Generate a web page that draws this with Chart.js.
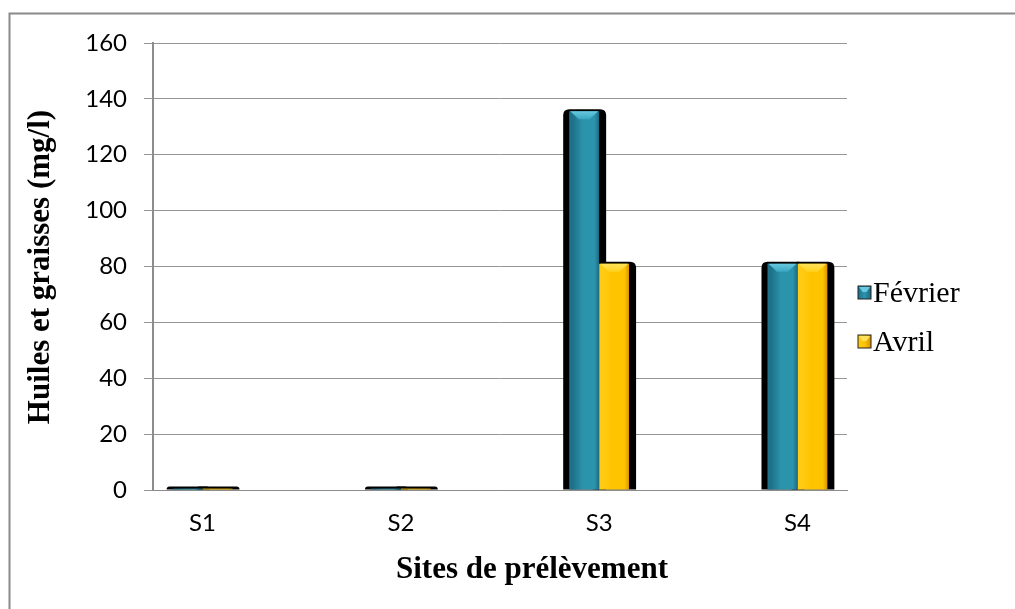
<!DOCTYPE html>
<html>
<head>
<meta charset="utf-8">
<script src="https://cdn.jsdelivr.net/npm/chart.js@4.4.0/dist/chart.umd.min.js"></script>
<style>
  html, body { margin: 0; padding: 0; background: #ffffff; }
  canvas { display: block; }
</style>
</head>
<body>
<canvas id="chart" width="1015" height="609"></canvas>
<script>
// Oils and greases per sampling site (mg/l)
const categories = ['S1', 'S2', 'S3', 'S4'];
const fevrier = [0.5, 0.5, 135.6, 81];
const avril = [0.5, 0.5, 81, 81];
const seriesNames = ['Février', 'Avril'];
const yTickValues = [0, 20, 40, 60, 80, 100, 120, 140, 160];
const yTitle = 'Huiles et graisses (mg/l)';
const xTitle = 'Sites de prélèvement';

const CAT_PCT = 0.302;

const palettes = [
  { left: '#1d7188', mid: '#2c93ad', right: '#1b6a80', cap: '#68c9e0', capDark: '#3aa6c2' },
  { left: '#ffcb14', mid: '#ffc400', right: '#d99300', cap: '#ffe25a', capDark: '#ffd21f' }
];

function barGeometry(ctx) {
  const ch = ctx.chart;
  const xs = ch.scales.x;
  const step = xs.getPixelForValue(1) - xs.getPixelForValue(0);
  const group = step * CAT_PCT;
  const w = group / 2;
  const cx = xs.getPixelForValue(ctx.parsed.x);
  const left = cx - group / 2 + ctx.datasetIndex * w;
  return { left, w };
}

function barFill(ctx) {
  const pal = palettes[ctx.datasetIndex];
  if (!ctx.chart.chartArea || !ctx.parsed) return pal.mid;
  const { left, w } = barGeometry(ctx);
  const g = ctx.chart.ctx.createLinearGradient(left, 0, left + w, 0);
  g.addColorStop(0, pal.left);
  g.addColorStop(0.12, pal.left);
  g.addColorStop(0.45, pal.mid);
  g.addColorStop(0.85, pal.mid);
  g.addColorStop(1, pal.right);
  return g;
}

function roundTopRect(c, x, y, w, h, r) {
  r = Math.min(r, w / 2, h);
  c.beginPath();
  c.moveTo(x, y + h);
  c.lineTo(x, y + r);
  c.quadraticCurveTo(x, y, x + r, y);
  c.lineTo(x + w - r, y);
  c.quadraticCurveTo(x + w, y, x + w, y + r);
  c.lineTo(x + w, y + h);
  c.closePath();
}

// Page frame and white background
const framePlugin = {
  id: 'frame',
  beforeDraw(chart) {
    const c = chart.ctx;
    c.save();
    c.fillStyle = '#ffffff';
    c.fillRect(0, 0, chart.width, chart.height);
    c.strokeStyle = '#8a8a8a';
    c.lineWidth = 2;
    c.beginPath();
    c.moveTo(9.5, chart.height);
    c.lineTo(9.5, 13.5);
    c.lineTo(chart.width, 13.5);
    c.stroke();
    c.restore();
  }
};

// Dark depth outline behind each column, and a light bevel on its top
const depthPlugin = {
  id: 'depth',
  beforeDatasetsDraw(chart) {
    const c = chart.ctx;
    c.save();
    c.fillStyle = '#000000';
    chart.data.datasets.forEach((ds, di) => {
      const meta = chart.getDatasetMeta(di);
      meta.data.forEach(el => {
        const p = el.getProps(['x', 'y', 'width', 'base'], true);
        const l = p.x - p.width / 2 - 6;
        const top = p.y - 2;
        roundTopRect(c, l, top, p.width + 13, p.base - top, 6);
        c.fill();
      });
    });
    c.restore();
  },
  afterDatasetsDraw(chart) {
    const c = chart.ctx;
    c.save();
    chart.data.datasets.forEach((ds, di) => {
      const pal = palettes[di];
      const meta = chart.getDatasetMeta(di);
      meta.data.forEach(el => {
        const p = el.getProps(['x', 'y', 'width', 'base'], true);
        if (p.base - p.y < 12) return;
        const L = p.x - p.width / 2 + 1, R = p.x + p.width / 2 - 1, T = p.y;
        const d = 8, bw = p.width * 0.18;
        const g = c.createLinearGradient(0, T, 0, T + d);
        g.addColorStop(0, pal.cap);
        g.addColorStop(1, pal.capDark);
        c.fillStyle = g;
        c.beginPath();
        c.moveTo(L, T);
        c.lineTo(R, T);
        c.lineTo(p.x + bw, T + d);
        c.lineTo(p.x - bw, T + d);
        c.closePath();
        c.fill();
      });
    });
    c.restore();
  }
};

// Legend and axis titles
const textPlugin = {
  id: 'texts',
  afterDraw(chart) {
    const c = chart.ctx;
    c.save();
    chart.data.datasets.forEach((ds, di) => {
      const pal = palettes[di];
      const x = 858, y = 286 + di * 49, s = 13;
      c.fillStyle = '#222';
      c.fillRect(x - 0.5, y - 0.5, s + 1, s + 1);
      const g = c.createLinearGradient(x, 0, x + s, 0);
      g.addColorStop(0, pal.left);
      g.addColorStop(0.5, pal.mid);
      g.addColorStop(1, pal.right);
      c.fillStyle = g;
      c.fillRect(x + 0.5, y + 0.5, s - 1, s - 1);
      c.fillStyle = pal.cap;
      c.beginPath();
      c.moveTo(x + 1, y + 1);
      c.lineTo(x + s - 1, y + 1);
      c.lineTo(x + s / 2 + 2, y + 6);
      c.lineTo(x + s / 2 - 2, y + 6);
      c.closePath();
      c.fill();
      c.fillStyle = '#000';
      c.font = '30px "Liberation Serif", "Times New Roman", serif';
      c.textAlign = 'left';
      c.textBaseline = 'alphabetic';
      c.fillText(ds.label, x + s + 2, y + 16);
    });
    c.font = 'bold 31px "Liberation Serif", "Times New Roman", serif';
    c.textAlign = 'center';
    c.textBaseline = 'alphabetic';
    c.fillText(xTitle, 532, 578);
    c.translate(49, 267);
    c.rotate(-Math.PI / 2);
    c.fillText(yTitle, 0, 0);
    c.restore();
  }
};

const toPoints = arr => arr.map((v, i) => ({ x: i, y: v }));

new Chart(document.getElementById('chart'), {
  type: 'bar',
  data: {
    datasets: [
      { label: seriesNames[0], data: toPoints(fevrier), backgroundColor: barFill, borderWidth: 0 },
      { label: seriesNames[1], data: toPoints(avril), backgroundColor: barFill, borderWidth: 0 }
    ]
  },
  options: {
    responsive: false,
    animation: false,
    events: [],
    categoryPercentage: CAT_PCT,
    barPercentage: 1,
    layout: { padding: { left: 0, top: 43, right: 168, bottom: 0 } },
    plugins: {
      legend: { display: false },
      tooltip: { enabled: false }
    },
    scales: {
      x: {
        type: 'linear',
        offset: false,
        min: -0.25,
        max: 3.25,
        afterBuildTicks: s => { s.ticks = categories.map((_, i) => ({ value: i })); },
        afterFit: s => { s.height = 119; },
        grid: { display: false, drawTicks: false },
        border: { display: true, color: '#8c8c8c', width: 1 },
        ticks: {
          callback: v => categories[v],
          font: { family: 'Lato', size: 24 },
          color: '#000',
          padding: 19,
          maxRotation: 0,
          autoSkip: false
        }
      },
      y: {
        min: 0,
        max: 160,
        afterBuildTicks: s => { s.ticks = yTickValues.map(v => ({ value: v })); },
        afterFit: s => { s.width = 153; },
        grid: { color: '#969696', lineWidth: 1, tickLength: 9 },
        border: { display: true, color: '#8c8c8c', width: 2 },
        ticks: {
          font: { family: 'Lato', size: 24 },
          color: '#000',
          padding: 17
        }
      }
    }
  },
  plugins: [framePlugin, depthPlugin, textPlugin]
});
</script>
</body>
</html>
